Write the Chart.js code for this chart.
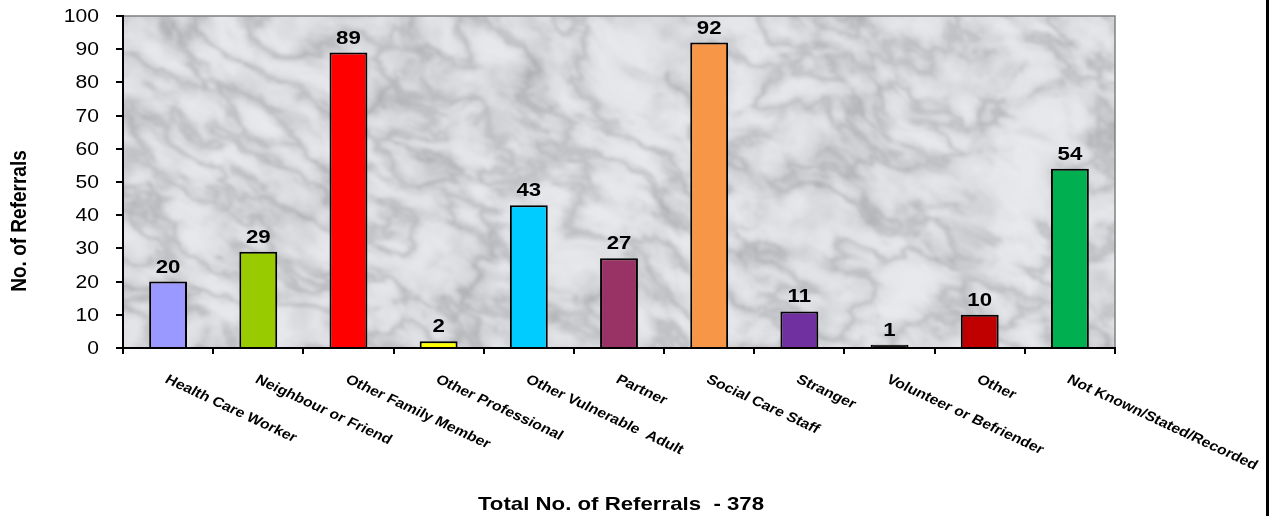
<!DOCTYPE html>
<html>
<head>
<meta charset="utf-8">
<title>Referrals by Source</title>
<script src="https://cdn.jsdelivr.net/npm/chart.js@4.4.1/dist/chart.umd.min.js"></script>
<style>
  html, body { margin: 0; padding: 0; background: #fff; }
  #wrap { width: 1273px; height: 516px; position: relative; }
</style>
</head>
<body>
<div id="wrap"><canvas id="referrals" width="1273" height="516"></canvas></div>
<script>
const sources = [
  'Health Care Worker', 'Neighbour or Friend', 'Other Family Member', 'Other Professional',
  'Other Vulnerable  Adult', 'Partner', 'Social Care Staff', 'Stranger',
  'Volunteer or Befriender', 'Other', 'Not Known/Stated/Recorded'
];
const referrals = [20, 29, 89, 2, 43, 27, 92, 11, 1, 10, 54];
const barColours = [
  '#9999FF', '#99CC00', '#FF0000', '#FFFF00', '#00CCFF', '#993366',
  '#F79646', '#7030A0', '#1a1a1a', '#C00000', '#00B050'
];
const yTicks = [0, 10, 20, 30, 40, 50, 60, 70, 80, 90, 100];
const yTitle = 'No. of Referrals';
const xTitle = 'Total No. of Referrals  - 378';

const FONT = '"Liberation Sans", Arial, sans-serif';
const STRETCH = 1.17; // text is drawn a little wide

// --- marble backdrop for the plot area ---
function hash(x, y) {
  let h = Math.imul(x, 374761393) + Math.imul(y, 668265263);
  h = Math.imul(h ^ (h >>> 13), 1274126177);
  h = h ^ (h >>> 16);
  return (h & 0xffff) / 0xffff;
}
function noise(x, y) {
  const xi = Math.floor(x), yi = Math.floor(y);
  const xf = x - xi, yf = y - yi;
  const u = xf * xf * (3 - 2 * xf), v = yf * yf * (3 - 2 * yf);
  const a = hash(xi, yi), b = hash(xi + 1, yi), c = hash(xi, yi + 1), d = hash(xi + 1, yi + 1);
  return a + (b - a) * u + (c - a) * v + (a - b - c + d) * u * v;
}
function fbm(x, y) {
  let s = 0, amp = 0.5, f = 1;
  for (let o = 0; o < 5; o++) { s += amp * noise(x * f, y * f); f *= 2.1; amp *= 0.5; }
  return s / 0.97;
}
let marble = null;
function buildMarble(w, h) {
  const raw = document.createElement('canvas');
  raw.width = w; raw.height = h;
  const g = raw.getContext('2d');
  const img = g.createImageData(w, h);
  const ca = Math.cos(-0.45), sa = Math.sin(-0.45);
  for (let y = 0; y < h; y++) {
    for (let x = 0; x < w; x++) {
      // warp the coordinates so the veins wander
      const wx = x + 70 * (fbm(x / 120 + 11.7, y / 120 + 2.9) - 0.5);
      const wy = y + 70 * (fbm(x / 120 + 4.1, y / 120 + 19.3) - 0.5);
      const u = wx * ca - wy * sa, v = wx * sa + wy * ca;
      const cloud = fbm(x / 40 + 5.5, y / 40 + 8.2);
      const d = fbm(u / 60 + 7.3, v / 30 + 3.1);
      const ridge = 1 - Math.abs(d * 2 - 1);
      const vein = Math.pow(ridge, 5);
      let tone = 232 - 42 * vein - 55 * Math.max(0, cloud - 0.52) + 10 * Math.max(0, 0.45 - cloud);
      tone = Math.max(165, Math.min(245, tone));
      const i = (y * w + x) * 4;
      img.data[i] = tone - 1; img.data[i + 1] = tone; img.data[i + 2] = tone + 4; img.data[i + 3] = 255;
    }
  }
  g.putImageData(img, 0, 0);
  // soften the whole slab
  const c = document.createElement('canvas');
  c.width = w; c.height = h;
  const cg = c.getContext('2d');
  cg.drawImage(raw, 0, 0);
  cg.filter = 'blur(1.6px)';
  cg.drawImage(raw, 0, 0);
  return c;
}

const decorations = {
  id: 'decorations',
  beforeDraw(chart) {
    const { ctx, chartArea: a } = chart;
    ctx.save();
    ctx.fillStyle = '#fff';
    ctx.fillRect(0, 0, chart.width, chart.height);
    const w = Math.round(a.right - a.left), h = Math.round(a.bottom - a.top);
    if (!marble || marble.width !== w || marble.height !== h) marble = buildMarble(w, h);
    ctx.drawImage(marble, a.left, a.top);
    // grey frame on top and right
    ctx.strokeStyle = '#808080';
    ctx.lineWidth = 1.5;
    ctx.beginPath();
    ctx.moveTo(a.left, a.top);
    ctx.lineTo(a.right, a.top);
    ctx.lineTo(a.right, a.bottom);
    ctx.stroke();
    ctx.restore();
  },
  afterDraw(chart) {
    const { ctx, chartArea: a } = chart;
    const xs = chart.scales.x, ys = chart.scales.y;
    ctx.save();
    ctx.fillStyle = '#000';

    // y tick labels
    ctx.font = '18px ' + FONT;
    ctx.textAlign = 'right';
    ctx.textBaseline = 'middle';
    yTicks.forEach(t => {
      ctx.save();
      ctx.translate(a.left - 24, ys.getPixelForValue(t) + 1);
      ctx.scale(STRETCH, 1);
      ctx.fillText(String(t), 0, 0);
      ctx.restore();
    });

    // slanted category labels
    ctx.font = 'bold 13.6px ' + FONT;
    ctx.textAlign = 'left';
    ctx.textBaseline = 'alphabetic';
    const ang = Math.atan(Math.tan(25 * Math.PI / 180) * STRETCH);
    sources.forEach((s, i) => {
      ctx.save();
      ctx.translate(xs.getPixelForValue(i) - 4, a.bottom + 34);
      ctx.scale(STRETCH, 1);
      ctx.rotate(ang);
      ctx.fillText(s, 0, 0);
      ctx.restore();
    });

    // value labels above the bars
    ctx.font = 'bold 19px ' + FONT;
    ctx.textAlign = 'center';
    const meta = chart.getDatasetMeta(0);
    meta.data.forEach((bar, i) => {
      ctx.save();
      ctx.translate(bar.x, bar.y - 9);
      ctx.scale(STRETCH, 1);
      ctx.fillText(String(referrals[i]), 0, 0);
      ctx.restore();
    });

    // axis titles
    ctx.font = 'bold 19px ' + FONT;
    ctx.save();
    ctx.translate((a.left + a.right) / 2 + 2, 510);
    ctx.scale(STRETCH, 1);
    ctx.fillText(xTitle, 0, 0);
    ctx.restore();

    ctx.textBaseline = 'middle';
    ctx.save();
    ctx.translate(20, 221);
    ctx.scale(STRETCH, 1);
    ctx.rotate(-Math.PI / 2);
    ctx.fillText(yTitle, 0, 0);
    ctx.restore();

    // black rule down the right edge
    ctx.fillRect(1266, 0, 3, chart.height);
    ctx.restore();
  }
};

new Chart(document.getElementById('referrals'), {
  type: 'bar',
  data: {
    labels: sources,
    datasets: [{
      data: referrals,
      backgroundColor: barColours,
      borderColor: '#000',
      borderWidth: 2,
      barPercentage: 0.42,
      categoryPercentage: 1
    }]
  },
  options: {
    responsive: false,
    animation: false,
    devicePixelRatio: 1,
    layout: { padding: { top: 16, right: 158, left: 0, bottom: 0 } },
    plugins: { legend: { display: false }, tooltip: { enabled: false } },
    scales: {
      x: {
        grid: { offset: true, drawOnChartArea: false, drawTicks: true, tickLength: 6, color: '#000', lineWidth: 2 },
        border: { color: '#000', width: 2 },
        ticks: { display: false },
        afterFit: s => { s.height = 168; }
      },
      y: {
        min: 0,
        max: 100,
        grid: { drawOnChartArea: false, drawTicks: true, tickLength: 7, color: '#000', lineWidth: 2 },
        border: { color: '#000', width: 2 },
        ticks: { display: false, stepSize: 10 },
        afterFit: s => { s.width = 123; }
      }
    }
  },
  plugins: [decorations]
});
</script>
</body>
</html>
